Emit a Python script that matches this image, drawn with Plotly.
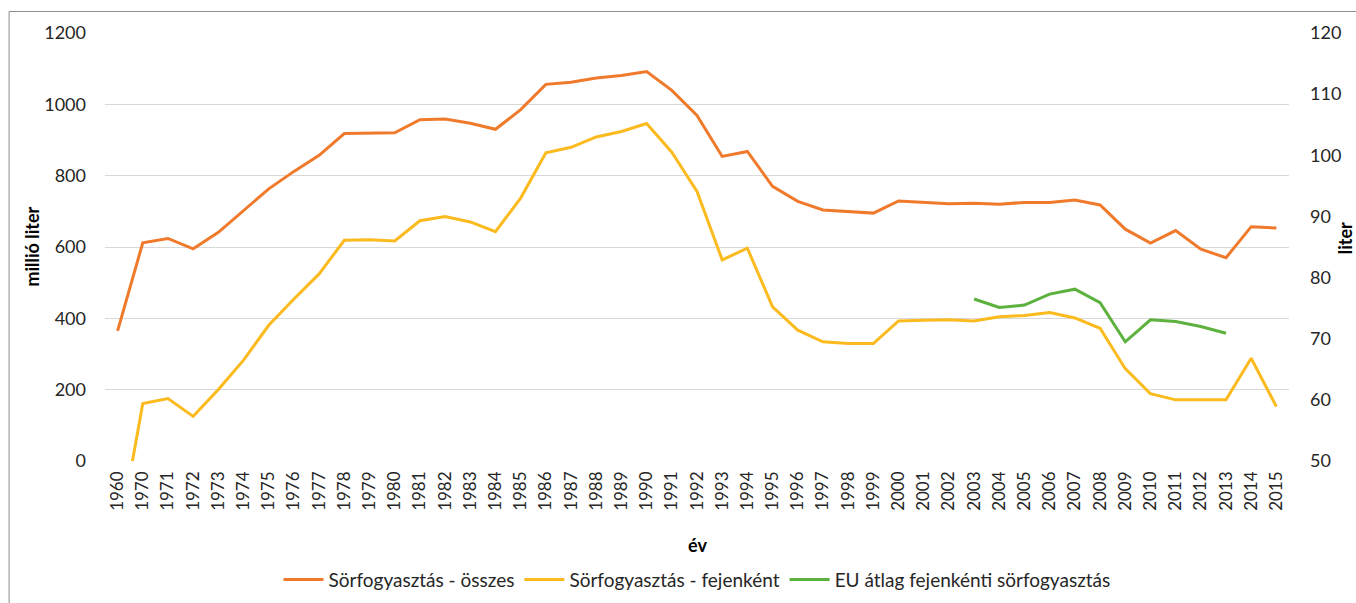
import plotly.graph_objects as go

# Years on the category axis (1960, then 1970-2015)
years = ["1960"] + [str(y) for y in range(1970, 2016)]

# Total beer consumption, million litres (left axis)
total_million_l = [365, 612, 624, 595, 641, 702, 763, 812, 857, 918,
                   919, 920, 957, 959, 947, 930, 985, 1056, 1062, 1074,
                   1081, 1092, 1039, 969, 854, 868, 770, 728, 704, 700,
                   695, 729, 725, 721, 723, 720, 725, 725, 732, 718,
                   650, 611, 646, 594, 570, 657, 653]

# Per capita beer consumption, litres (right axis)
per_capita_l = [36.5, 59.4, 60.2, 57.3, 61.7, 66.5, 72.2, 76.5, 80.6, 86.1,
                86.2, 86.0, 89.3, 90.0, 89.1, 87.5, 93.0, 100.4, 101.3, 103.0,
                103.9, 105.2, 100.5, 94.1, 82.9, 84.8, 75.2, 71.4, 69.5, 69.2,
                69.2, 72.9, 73.0, 73.1, 72.9, 73.6, 73.8, 74.3, 73.4, 71.7,
                65.1, 61.0, 60.0, 60.0, 60.0, 66.8, 58.9]

# EU average per capita consumption, litres (right axis)
eu_years = [str(y) for y in range(2003, 2014)]
eu_per_capita_l = [76.5, 75.1, 75.5, 77.3, 78.1, 75.9, 69.5, 73.1, 72.8, 72.0, 70.9]

font_name = "Lato"
text_color = "#262626"

fig = go.Figure()
fig.add_trace(go.Scatter(
    x=years, y=total_million_l, mode="lines", name="Sörfogyasztás - összes",
    line=dict(color="#F07A2C", width=3), yaxis="y"
))
fig.add_trace(go.Scatter(
    x=years, y=per_capita_l, mode="lines", name="Sörfogyasztás - fejenként",
    line=dict(color="#FBBA1E", width=3), yaxis="y2"
))
fig.add_trace(go.Scatter(
    x=eu_years, y=eu_per_capita_l, mode="lines", name="EU átlag fejenkénti sörfogyasztás",
    line=dict(color="#5DB13E", width=3), yaxis="y2"
))

fig.update_layout(
    width=1356, height=603,
    margin=dict(l=105, r=67, t=33, b=142, autoexpand=False),
    paper_bgcolor="white", plot_bgcolor="white",
    font=dict(family=font_name, size=18, color=text_color),
    showlegend=True,
    legend=dict(orientation="h", x=0.5, xanchor="center", y=-0.233, yanchor="top",
                font=dict(size=19), itemwidth=40, tracegroupgap=0),
    xaxis=dict(
        type="category", categoryorder="array", categoryarray=years,
        range=[-0.5, len(years) - 0.5], automargin=False,
        tickangle=-90, tickfont=dict(size=17), showgrid=False,
        showline=False, ticks="", ticklabelstandoff=6,
    ),
    yaxis=dict(
        range=[0, 1200], dtick=200, showgrid=True, gridcolor="#D9D9D9", gridwidth=1,
        zeroline=False, showline=False, ticks="", ticklabelstandoff=18, automargin=False,
    ),
    yaxis2=dict(
        range=[50, 120], dtick=10, overlaying="y", side="right", showgrid=False,
        zeroline=False, showline=False, ticks="", ticklabelstandoff=20, automargin=False,
    ),
    annotations=[
        dict(text="<b>millió liter</b>", xref="paper", yref="paper", x=-0.062, y=0.5,
             xanchor="center", yanchor="middle",
             textangle=-90, showarrow=False, font=dict(size=18, color="black")),
        dict(text="<b>liter</b>", xref="paper", yref="paper", x=1.048, y=0.52,
             xanchor="center", yanchor="middle",
             textangle=-90, showarrow=False, font=dict(size=18, color="black")),
        dict(text="<b>év</b>", xref="paper", yref="paper", x=0.5, y=-0.197,
             xanchor="center", yanchor="middle",
             showarrow=False, font=dict(size=18, color="black")),
    ],
    shapes=[
        dict(type="rect", xref="paper", yref="paper", x0=-0.081, x1=1.2, y0=-0.6, y1=1.0503,
             line=dict(color="#8C8C8C", width=1), fillcolor="rgba(0,0,0,0)", layer="below"),
    ],
)

fig.write_html("out.html", config={"displayModeBar": False},
               post_script="document.body.style.margin='0';")
